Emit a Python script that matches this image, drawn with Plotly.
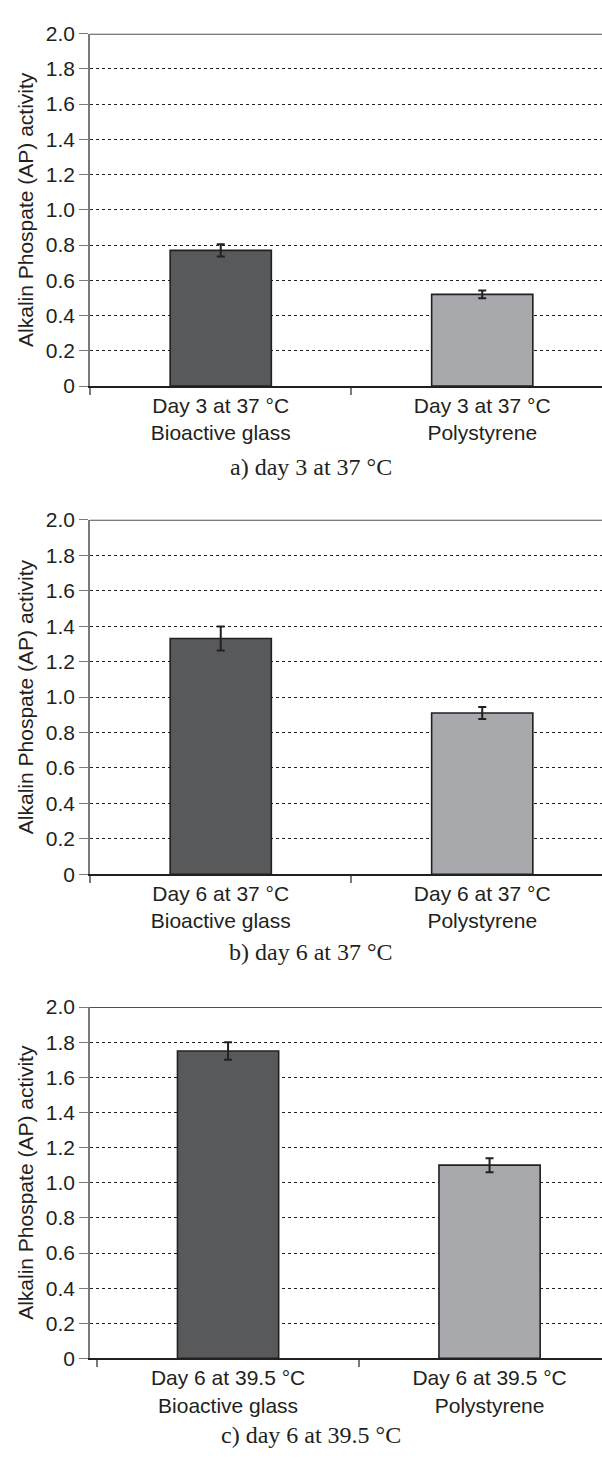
import plotly.graph_objects as go

# ---- data ----
labels_a = ["Day 3 at 37 °C<br>Bioactive glass", "Day 3 at 37 °C<br>Polystyrene"]
values_a = [0.77, 0.52]
errors_a = [0.035, 0.022]

labels_b = ["Day 6 at 37 °C<br>Bioactive glass", "Day 6 at 37 °C<br>Polystyrene"]
values_b = [1.33, 0.91]
errors_b = [0.068, 0.034]

labels_c = ["Day 6 at 39.5 °C<br>Bioactive glass", "Day 6 at 39.5 °C<br>Polystyrene"]
values_c = [1.75, 1.10]
errors_c = [0.05, 0.04]

captions = ["a) day 3 at 37 °C", "b) day 6 at 37 °C", "c) day 6 at 39.5 °C"]
y_tickvals = [0, 0.2, 0.4, 0.6, 0.8, 1.0, 1.2, 1.4, 1.6, 1.8, 2.0]
y_ticktext = ["0", "0.2", "0.4", "0.6", "0.8", "1.0", "1.2", "1.4", "1.6", "1.8", "2.0"]
y_title = "Alkalin Phospate (AP) activity"

# ---- styling / layout ----
W, H = 602, 1458
bar_colors = ["#58595b", "#a7a9ac"]
ink = "#231f20"
grey_axis = "#7a7a7a"
sans = "Liberation Sans, Arial, sans-serif"
serif = "Liberation Serif, Times New Roman, serif"

# pixel extents of each plot area (top, bottom), x-range, caption y
panels = [
    (labels_a, values_a, errors_a, 22, 380, [-0.5, 1.458], 462),
    (labels_b, values_b, errors_b, 516, 876, [-0.5, 1.458], 955),
    (labels_c, values_c, errors_c, 1011, 1368, [-0.528, 1.430], 1446),
]

fig = go.Figure()
layout = dict(
    width=W, height=H,
    margin=dict(l=0, r=0, t=0, b=0),
    paper_bgcolor="white", plot_bgcolor="white",
    showlegend=False,
)
annotations = []
shapes = []
x_left = 90 / W

for i, (labels, vals, errs, top, bot, xr, cap_y) in enumerate(panels):
    n = "" if i == 0 else str(i + 1)
    xa, ya = "x" + n, "y" + n
    fig.add_trace(go.Bar(
        x=labels, y=vals, xaxis=xa, yaxis=ya,
        marker=dict(color=bar_colors, line=dict(color=ink, width=1.6)),
        width=0.387,
        error_y=dict(type="data", array=errs, color=ink, thickness=2, width=4),
        hoverinfo="x+y",
    ))
    layout["xaxis" + n] = dict(
        domain=[x_left, 1.0], anchor=ya, type="category", range=xr,
        showline=True, linecolor=ink, linewidth=1.5,
        ticks="outside", tickson="boundaries", ticklen=7, tickwidth=1.5,
        tickcolor=grey_axis, showgrid=False,
        tickfont=dict(family=sans, size=21, color=ink),
        fixedrange=True,
    )
    layout["yaxis" + n] = dict(
        domain=[1 - bot / H, 1 - top / H], anchor=xa, range=[0, 2.0],
        tickvals=y_tickvals, ticktext=y_ticktext,
        showline=True, linecolor=grey_axis, linewidth=1.5,
        ticks="outside", ticklen=9, tickwidth=1.2, tickcolor=grey_axis,
        showgrid=True, gridcolor=ink, gridwidth=1, griddash="dot",
        zeroline=False,
        tickfont=dict(family=sans, size=21, color=ink),
        title=dict(text=y_title, font=dict(family=sans, size=21, color=ink), standoff=6),
        fixedrange=True,
    )
    shapes.append(dict(
        type="line", xref=xa + " domain", yref=ya,
        x0=0, x1=1, y0=2.0, y1=2.0,
        line=dict(color="#505050", width=2), layer="above",
    ))
    annotations.append(dict(
        text=captions[i], xref="paper", yref="paper",
        x=311 / W, y=1 - cap_y / H, xanchor="center", yanchor="middle",
        showarrow=False, font=dict(family=serif, size=24, color=ink),
    ))

layout["annotations"] = annotations
layout["shapes"] = shapes
fig.update_layout(**layout)
fig.write_html("out.html", config={"displayModeBar": False})
